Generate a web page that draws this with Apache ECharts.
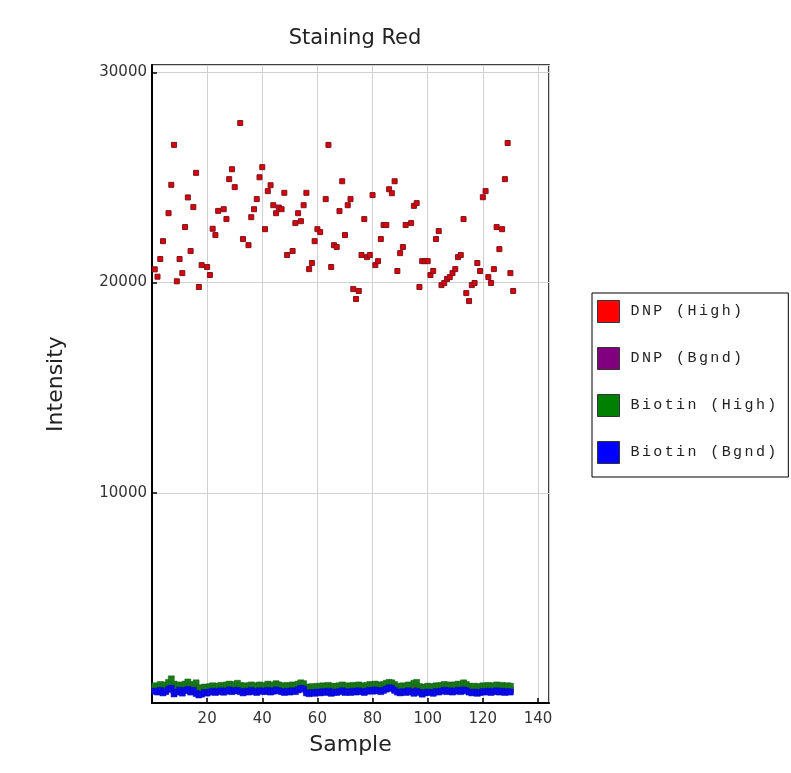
<!DOCTYPE html>
<html>
<head>
<meta charset="utf-8">
<script src="https://cdn.jsdelivr.net/npm/echarts@6/dist/echarts.min.js"></script>
<style>
html,body{margin:0;padding:0;background:#fff;}
#chart{width:791px;height:773px;}
</style>
</head>
<body>
<div id="chart"></div>
<script>
const titleText = "Staining Red";
const xAxisName = "Sample";
const yAxisName = "Intensity";
const seriesNames = ["DNP (High)", "DNP (Bgnd)", "Biotin (High)", "Biotin (Bgnd)"];

// DNP (High): [sample, intensity]
const dnpHigh = [
  [1,20630],[2,20280],[3,21120],[4,21970],[6,23300],[7,24650],[8,26550],[9,20060],[10,21120],
  [11,20450],[12,22640],[13,24050],[14,21500],[15,23590],[16,25220],[17,19790],[18,20830],[20,20740],
  [21,20360],[22,22560],[23,22260],[24,23410],[26,23490],[27,23020],[28,24920],[29,25390],[30,24540],
  [32,27590],[33,22070],[35,21780],[36,23110],[37,23490],[38,23970],[39,25010],[40,25490],
  [41,22540],[42,24350],[43,24630],[44,23680],[45,23300],[46,23570],[47,23490],[48,24270],[49,21310],
  [51,21500],[52,22830],[53,23300],[54,22920],[55,23680],[56,24270],[57,20640],[58,20930],[59,21970],[60,22540],
  [61,22400],[63,23970],[64,26550],[65,20740],[66,21780],[67,21690],[68,23400],[69,24820],[70,22260],
  [71,23680],[72,23970],[73,19690],[74,19220],[75,19600],[76,21310],[77,23020],[78,21210],[79,21310],[80,24160],
  [81,20830],[82,21020],[83,22070],[84,22740],[85,22740],[86,24440],[87,24250],[88,24820],[89,20550],[90,21400],
  [91,21690],[92,22740],[94,22830],[95,23650],[96,23780],[97,19790],[98,21020],[99,21020],[100,21020],
  [101,20360],[102,20550],[103,22070],[104,22450],[105,19880],[106,19980],[107,20170],[108,20260],[109,20450],[110,20640],
  [111,21210],[112,21310],[113,23020],[114,19500],[115,19120],[116,19880],[117,19980],[118,20930],[119,20550],[120,24060],
  [121,24350],[122,20260],[123,19980],[124,20640],[125,22640],[126,21590],[127,22540],[128,24920],[129,26640],[130,20450],[131,19600]
];

const samples = Array.from({length:130}, (_, i) => i + 1);

const dnpBgnd = [
  640,600,680,580,620,720,760,560,600,680,
  580,660,720,600,680,560,500,540,600,580,
  620,640,600,620,660,600,640,700,620,660,
  700,640,580,640,620,680,640,600,660,640,
  620,680,620,640,700,660,620,600,640,620,
  660,640,700,760,720,580,540,600,560,620,
  580,640,600,640,560,620,600,640,660,600,
  640,600,640,620,660,640,600,640,680,640,
  700,660,640,680,740,780,760,680,620,580,
  640,600,660,620,560,640,600,520,580,620,
  600,560,640,620,640,680,640,660,620,640,
  680,640,700,660,620,580,620,560,600,640,
  620,640,600,640,660,620,640,600,640,620
];

const biotinHigh = [
  820,760,880,800,860,980,1150,900,780,860,
  760,900,1000,820,880,960,720,700,760,740,
  780,820,760,800,840,780,860,900,820,880,
  940,840,760,820,800,860,820,780,860,820,
  800,900,820,860,920,860,820,780,840,800,
  860,820,900,960,920,760,720,780,740,800,
  760,820,780,840,760,800,780,820,860,780,
  820,780,840,800,860,820,780,840,880,840,
  900,860,820,880,940,980,960,880,800,760,
  820,780,860,800,940,980,780,700,760,800,
  780,740,820,800,840,880,820,860,800,860,
  900,840,960,880,800,760,800,740,780,820,
  800,840,780,820,860,800,840,780,820,800
];

const biotinBgnd = [
  560,520,600,480,540,650,700,430,520,610,
  470,590,640,520,600,450,380,420,500,470,
  520,560,500,540,580,510,560,620,540,580,
  600,540,480,560,520,600,540,500,580,560,
  540,600,520,560,620,580,540,500,560,520,
  580,540,620,700,660,480,440,500,460,520,
  480,540,500,560,460,520,500,540,580,500,
  540,500,560,520,580,540,500,560,600,560,
  620,580,540,600,660,720,700,600,520,480,
  540,500,580,520,460,560,500,420,480,520,
  500,460,540,520,560,600,540,580,520,560,
  600,540,620,580,520,480,520,460,500,540,
  520,560,500,540,580,520,560,500,540,520
];

const xTicks = [20, 40, 60, 80, 100, 120, 140];
const yTicks = [10000, 20000, 30000];

const pair = arr => samples.map((s, i) => [s, arr[i]]);

const chart = echarts.init(document.getElementById('chart'), null, {renderer: 'canvas'});
const legendColors = ['#ff0000', '#800080', '#008000', '#0000ff'];
const sansFont = 'DejaVu Sans, Open Sans, sans-serif';
const monoFont = 'Liberation Mono, DejaVu Sans Mono, monospace';

// slightly spaced monospace legend text
const spaced = name => name.split('').map(ch => '{c|' + ch + '}').join('{s| }');

chart.setOption({
  backgroundColor: '#ffffff',
  animation: false,
  title: {
    text: titleText,
    left: 350,
    top: 23,
    textAlign: 'center',
    textStyle: {fontFamily: sansFont, fontSize: 21, fontWeight: 'normal', color: '#222'}
  },
  grid: {
    left: 152, right: 242, top: 65, bottom: 70,
    show: true, borderColor: '#000', borderWidth: 1.5, backgroundColor: 'transparent'
  },
  legend: {
    orient: 'vertical',
    left: 592, top: 293,
    padding: [7, 12, 13, 5],
    itemGap: 24,
    itemWidth: 22, itemHeight: 22,
    icon: 'rect',
    borderColor: '#000', borderWidth: 1,
    formatter: name => spaced(name),
    textStyle: {
      fontFamily: monoFont, fontSize: 15, color: '#222', padding: [0,0,0,6],
      rich: {
        c: {fontFamily: monoFont, fontSize: 15, color: '#222'},
        s: {fontFamily: monoFont, fontSize: 4, color: '#222'}
      }
    },
    data: seriesNames.map((n, i) => ({name: n, icon: 'rect', itemStyle: {color: legendColors[i], opacity: 1, borderColor: '#333', borderWidth: 1}}))
  },
  xAxis: {
    type: 'value', min: 0, max: 144, interval: 20,
    name: xAxisName, nameLocation: 'middle', nameGap: 31,
    nameTextStyle: {fontFamily: sansFont, fontSize: 22, color: '#222'},
    axisLine: {show: true, onZero: false, lineStyle: {color: '#000', width: 2}},
    axisTick: {show: true, inside: true, length: 5, lineStyle: {color: '#000', width: 1.5}},
    axisLabel: {show: true, showMinLabel: false, showMaxLabel: false, margin: 9,
      fontFamily: sansFont, fontSize: 15, color: '#333',
      formatter: v => xTicks.includes(v) ? String(v) : ''},
    splitLine: {show: true, lineStyle: {color: '#d0d0d0', width: 1}}
  },
  yAxis: {
    type: 'value', min: 0, max: 30350, interval: 10000,
    name: yAxisName, nameLocation: 'middle', nameGap: 85, nameRotate: 90,
    nameTextStyle: {fontFamily: sansFont, fontSize: 22, color: '#222'},
    axisLine: {show: true, onZero: false, lineStyle: {color: '#000', width: 2}},
    axisTick: {show: true, inside: true, length: 5, lineStyle: {color: '#000', width: 1.5}},
    axisLabel: {show: true, showMinLabel: false, showMaxLabel: false, margin: 5,
      fontFamily: sansFont, fontSize: 15, color: '#333',
      formatter: v => yTicks.includes(v) ? String(v) : ''},
    splitLine: {show: true, lineStyle: {color: '#d0d0d0', width: 1}}
  },
  series: [
    {name: seriesNames[0], type: 'scatter', symbol: 'rect', symbolSize: 5, data: dnpHigh,
      itemStyle: {color: '#dd0000', opacity: 1, borderColor: '#7a1424', borderWidth: 1}},
    {name: seriesNames[1], type: 'scatter', symbol: 'rect', symbolSize: 6, data: pair(dnpBgnd),
      itemStyle: {color: '#800080', opacity: 1, borderColor: '#600060', borderWidth: 0.5}},
    {name: seriesNames[2], type: 'scatter', symbol: 'rect', symbolSize: 6, data: pair(biotinHigh),
      itemStyle: {color: '#1a7a1a', opacity: 1, borderColor: '#146014', borderWidth: 0.5}},
    {name: seriesNames[3], type: 'scatter', symbol: 'rect', symbolSize: 6, data: pair(biotinBgnd),
      itemStyle: {color: '#0a0af0', opacity: 1, borderColor: '#0606b8', borderWidth: 0.5}}
  ]
});
</script>
</body>
</html>
